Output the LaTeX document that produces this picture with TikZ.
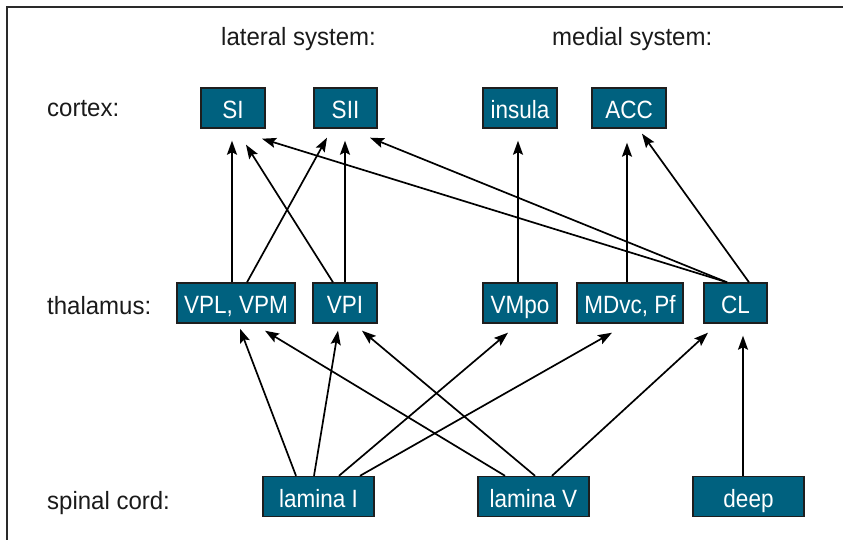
\documentclass[tikz,border=0pt]{standalone}
\usepackage{fontspec}
\setmainfont{Liberation Sans}[FakeStretch=0.96]
\newfontfamily\boxfont{Liberation Sans}[FakeStretch=0.9]
\usetikzlibrary{arrows.meta,calc}
\definecolor{boxfill}{HTML}{00617F}
\definecolor{boxline}{HTML}{1E1E1E}
\definecolor{labeltext}{HTML}{1A1A1A}
\definecolor{framecol}{HTML}{2A2A2A}

\begin{document}
\begin{tikzpicture}[x=1pt,y=-1pt,
  every node/.style={inner sep=0pt},
  box/.style={draw=boxline, line width=1.4pt, fill=boxfill, text=white,
    minimum height=40pt, text height=21pt, text depth=0pt,
    font=\boxfont\fontsize{25}{29}\selectfont},
  lbl/.style={anchor=base west, text=labeltext, font=\fontsize{25}{29}\selectfont},
  conn/.style={line width=1.7pt, draw=black,
    -{Stealth[length=14pt,width=10pt,inset=2.5pt]}},
  frameline/.style={draw=framecol, line width=2pt}
]
\useasboundingbox (0,0) rectangle (843,540);

% outer frame (open to the right and bottom)
\draw[frameline] (850,7) -- (7,7) -- (7,550);

% row and column headings
\node[lbl] (latsys) at (221,46) {lateral system:};
\node[lbl] (medsys) at (552,46) {medial system:};
\node[lbl] (cortexlbl) at (47,117) {cortex:};
\node[lbl] (thallbl) at (47,314) {thalamus:};
\node[lbl] (spinallbl) at (47,509) {spinal cord:};

% cortex
\node[box, minimum width=64pt] (SI) at (233,108) {SI};
\node[box, minimum width=63pt] (SII) at (345.5,108) {SII};
\node[box, minimum width=74pt] (insula) at (520,108) {insula};
\node[box, minimum width=74pt] (ACC) at (629,108) {ACC};

% thalamus
\node[box, minimum width=118pt] (VPL) at (236,303) {VPL, VPM};
\node[box, minimum width=64pt] (VPI) at (345,303) {VPI};
\node[box, minimum width=74pt] (VMpo) at (520,303) {VMpo};
\node[box, minimum width=106pt] (MDvc) at (630,303) {MDvc, Pf};
\node[box, minimum width=63pt] (CL) at (735.5,303) {CL};

% spinal cord
\node[box, minimum width=111pt] (lamI) at (318.5,496.5) {lamina I};
\node[box, minimum width=111pt] (lamV) at (533.5,496.5) {lamina V};
\node[box, minimum width=111pt] (deep) at (748.5,496.5) {deep};

% thalamus -> cortex
\draw[conn] ($(VPL.north)+(-4,0)$) -- ($(SI.south)+(-1,12)$);
\draw[conn] ($(VPL.north)+(11,0)$) -- ($(SII.south)+(-18.5,9)$);
\draw[conn] ($(VPI.north)+(-12,0)$) -- ($(SI.south)+(13,16)$);
\draw[conn] (VPI.north) -- ($(SII.south)+(-0.5,12)$);
\draw[conn] ($(CL.north)+(-8.5,0)$) -- ($(SI.south)+(29,10)$);
\draw[conn] ($(CL.north)+(-8.5,0)$) -- ($(SII.south)+(24.5,9)$);
\draw[conn] ($(CL.north)+(13.5,0)$) -- ($(ACC.south)+(13,5)$);
\draw[conn] ($(VMpo.north)+(-2,0)$) -- ($(insula.south)+(-2,12)$);
\draw[conn] ($(MDvc.north)+(-3,0)$) -- ($(ACC.south)+(-2,14)$);

% spinal cord -> thalamus
\draw[conn] ($(lamI.north)+(-22.5,0)$) -- ($(VPL.south)+(4,5)$);
\draw[conn] ($(lamI.north)+(-4.5,0)$) -- ($(VPI.south)+(-7,7)$);
\draw[conn] ($(lamI.north)+(20.5,0)$) -- ($(VMpo.south)+(-12,9)$);
\draw[conn] ($(lamI.north)+(41.5,0)$) -- ($(MDvc.south)+(-18,9)$);
\draw[conn] ($(lamV.north)+(-28.5,0)$) -- ($(VPL.south)+(29,7)$);
\draw[conn] ($(lamV.north)+(1.5,0)$) -- ($(VPI.south)+(17,7)$);
\draw[conn] ($(lamV.north)+(18.5,0)$) -- ($(CL.south)+(-27.5,9)$);
\draw[conn] ($(deep.north)+(-5.5,0)$) -- ($(CL.south)+(7.5,12)$);
\end{tikzpicture}
\end{document}
